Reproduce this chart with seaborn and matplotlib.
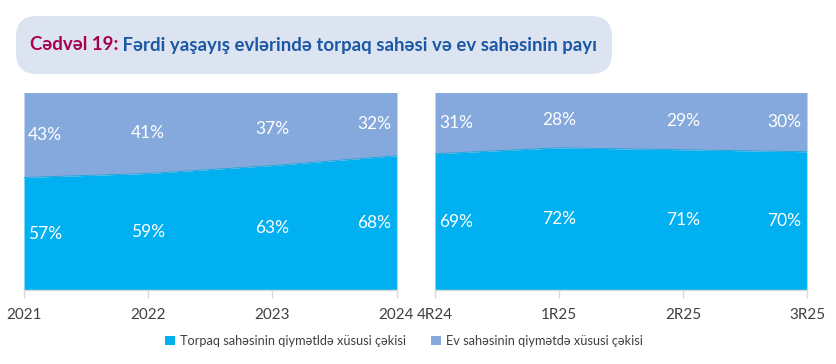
import matplotlib
matplotlib.use("Agg")
import matplotlib.pyplot as plt
import seaborn as sns
import pandas as pd
from matplotlib.patches import FancyBboxPatch, Patch

sns.set_theme(style="white")
plt.rcParams['font.family'] = ['Lato', 'DejaVu Sans']

# ---- data ----
years = ["2021", "2022", "2023", "2024"]
land_years = [57, 59, 63, 68]
house_years = [43, 41, 37, 32]

quarters = ["4R24", "1R25", "2R25", "3R25"]
land_q = [69, 72, 71, 70]
house_q = [31, 28, 29, 30]

legend_labels = ["Torpaq sahəsinin qiymətldə xüsusi çəkisi",
                 "Ev sahəsinin qiymətdə xüsusi çəkisi"]
title_red = "Cədvəl 19:"
title_blue = " Fərdi yaşayış evlərində torpaq sahəsi və ev sahəsinin payı"

c_land = "#00B0F0"
c_house = "#85A9DD"
c_tick = "#404040"

W, H = 836, 364
fig = plt.figure(figsize=(W / 100, H / 100), dpi=100)
fig.patch.set_facecolor("white")

def fx(px):
    return px / W

def fy(py):
    return 1 - py / H

top_px, bot_px = 92.5, 290
ax1 = fig.add_axes([fx(24), fy(bot_px), fx(396.5 - 24), (bot_px - top_px) / H])
ax2 = fig.add_axes([fx(435), fy(bot_px), fx(807 - 435), (bot_px - top_px) / H])

def draw(ax, cats, land, house):
    df = pd.DataFrame({"x": range(len(cats)), "land": land,
                       "total": [a + b for a, b in zip(land, house)]})
    ax.fill_between(df["x"], 0, df["land"], color=c_land, lw=0)
    ax.fill_between(df["x"], df["land"], df["total"], color=c_house, lw=0)
    sns.lineplot(data=df, x="x", y="land", ax=ax, color="#1AA6DC", lw=0.6)
    ax.set_xlim(0, len(cats) - 1)
    ax.set_ylim(0, 100)
    ax.set_xticks(range(len(cats)))
    ax.set_xticklabels(cats, fontsize=11, color=c_tick)
    ax.set_yticks([])
    ax.set_xlabel("")
    ax.set_ylabel("")
    for s in ["top", "left"]:
        ax.spines[s].set_visible(False)
    ax.spines["right"].set_color("#D0D0D0")
    ax.spines["right"].set_linewidth(0.8)
    ax.spines["bottom"].set_color("#D9D9D9")
    ax.spines["bottom"].set_linewidth(1.0)
    ax.tick_params(axis="x", direction="out", length=6, width=1.0,
                   color="#D9D9D9", pad=7, bottom=True)
    n = len(cats)
    for i in range(n):
        if i == 0:
            ha, dx = "left", 3
        elif i == n - 1:
            ha, dx = "right", -4
        else:
            ha, dx = "center", 0
        for yv, txt in [(land[i] / 2, f"{land[i]}%"),
                        (land[i] + house[i] / 2, f"{house[i]}%")]:
            ax.annotate(txt, (i, yv), xytext=(dx, 0), textcoords="offset points",
                        ha=ha, va="center", color="white", fontsize=12.5)

draw(ax1, years, land_years, house_years)
draw(ax2, quarters, land_q, house_q)

# ---- title box ----
box = FancyBboxPatch((fx(16), fy(74)), fx(612 - 16), (74 - 16) / H,
                     boxstyle="round,pad=0,rounding_size=0.025",
                     transform=fig.transFigure, facecolor="#DCE4F2",
                     edgecolor="none", mutation_aspect=W / H)
fig.patches.append(box)

t1 = fig.text(fx(30), fy(45), title_red, color="#A8004F", fontsize=13.4,
              fontweight="bold", va="center", ha="left")
fig.canvas.draw()
bb = t1.get_window_extent()
fig.text(bb.x1 / fig.dpi / fig.get_figwidth(), fy(45), title_blue,
         color="#1C57A5", fontsize=13.4, fontweight="bold", va="center", ha="left")

# ---- legend ----
handles = [Patch(facecolor=c_land, edgecolor="none"),
           Patch(facecolor=c_house, edgecolor="none")]
leg = fig.legend(handles, legend_labels, loc="center", ncol=2,
                 bbox_to_anchor=(fx(404), fy(341)), frameon=False,
                 fontsize=9.2, handlelength=0.75, handleheight=0.75,
                 handletextpad=0.4, columnspacing=2.0)
for t in leg.get_texts():
    t.set_color(c_tick)

fig.savefig("out.png", dpi=100, facecolor="white")
